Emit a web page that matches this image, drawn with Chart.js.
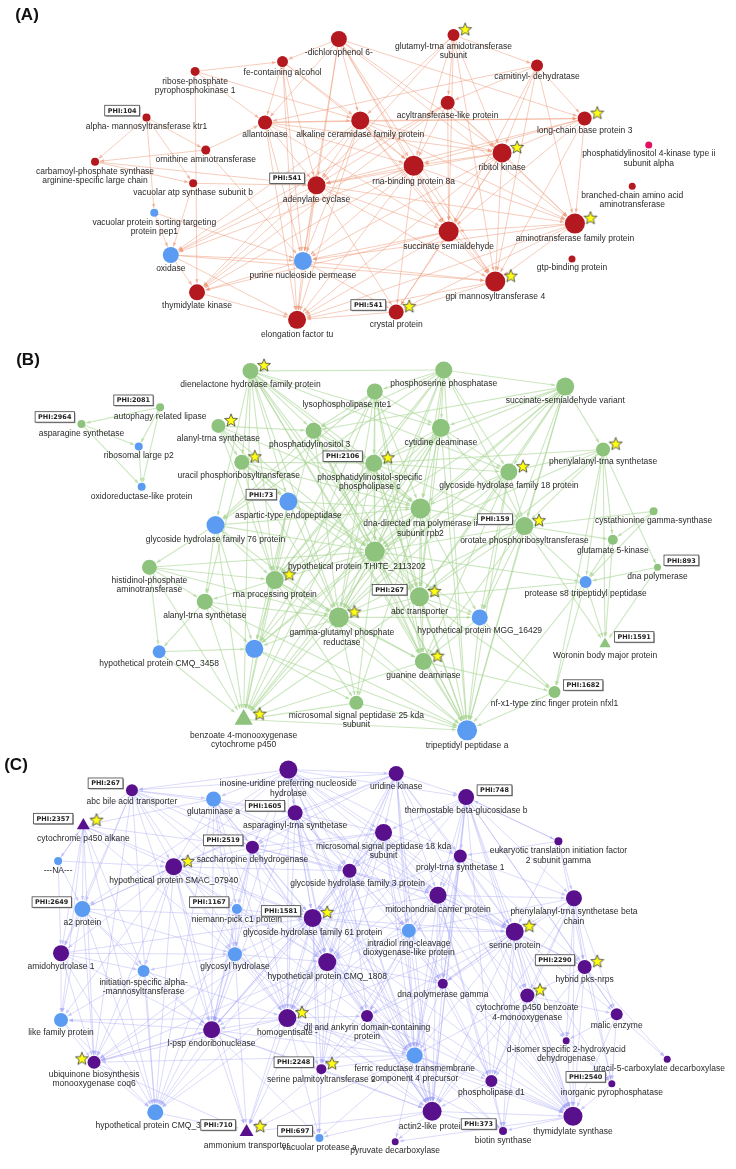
<!DOCTYPE html>
<html lang="en">
<head>
    <meta charset="UTF-8">
    <title>Protein interaction networks (A)(B)(C)</title>
    <script src="https://cdn.jsdelivr.net/npm/chart.js"></script>
    <style>
        html, body { margin: 0; padding: 0; background: #fff; }
        #wrap { width: 736px; height: 1169px; }
    </style>
</head>
<body>
    <div id="wrap"><canvas id="net" width="736" height="1169"></canvas></div>

    <script>
        // ---------- Panel A ----------
        const namesA = ['-dichlorophenol 6-', 'glutamyl-trna amidotransferase\nsubunit', 'carnitinyl- dehydratase', 'fe-containing alcohol',
            'ribose-phosphate\npyrophosphokinase 1', 'alpha- mannosyltransferase ktr1', 'allantoinase', 'alkaline ceramidase family protein',
            'acyltransferase-like protein', 'long-chain base protein 3', 'phosphatidylinositol 4-kinase type ii\nsubunit alpha',
            'ornithine aminotransferase', 'carbamoyl-phosphate synthase\narginine-specific large chain', 'ribitol kinase', 'rna-binding protein 8a',
            'vacuolar atp synthase subunit b', 'adenylate cyclase', 'branched-chain amino acid\naminotransferase',
            'vacuolar protein sorting targeting\nprotein pep1', 'aminotransferase family protein', 'succinate semialdehyde', 'oxidase',
            'purine nucleoside permease', 'gtp-binding protein', 'gpi mannosyltransferase 4', 'thymidylate kinase', 'crystal protein', 'elongation factor tu'];
        const xA = [338, 456, 542, 280, 190, 140, 262, 360, 450, 591, 657, 201, 87, 506, 415, 188, 315, 640, 148, 581, 451, 165, 301, 578, 499, 192, 397, 295];
        const yA = [29, 25, 56, 52, 62, 109, 114, 112, 94, 110, 137, 142, 154, 145, 158, 176, 178, 179, 206, 217, 225, 249, 255, 253, 276, 287, 307, 315];
        const degA = [11, 7, 7, 6, 4, 3, 9, 13, 9, 9, 2, 4, 3, 14, 15, 3, 13, 2, 3, 15, 15, 11, 13, 2, 15, 11, 10, 13];
        const blueA = [18, 21, 22];
        const pinkA = [10];
        const starA = [1, 9, 13, 19, 24, 26];
        const phiA = [[5, 'PHI:104'], [16, 'PHI:541'], [26, 'PHI:541']];
        const linksA = [
            [0, [3, 6, 7, 14, 16, 20, 13, 22, 19, 24, 9]], [1, [7, 8, 2, 14, 13, 20, 24, 16]], [2, [8, 9, 13, 19, 24, 6, 20]],
            [3, [6, 7, 16, 14, 22, 27]], [4, [3, 6, 7, 25]], [5, [12, 11, 15, 18]], [6, [7, 14, 16, 20, 13, 9, 27, 22]],
            [7, [14, 16, 20, 13, 9, 19, 24, 22, 27, 25, 21]], [8, [14, 13, 16, 19, 20, 25, 21]], [9, [13, 19, 20, 24, 14, 16]],
            [11, [6, 12, 22]], [12, [15, 16]], [13, [19, 20, 24, 14, 16, 22, 27, 26]], [14, [16, 20, 24, 19, 22, 27, 25, 21, 26]],
            [15, [16, 21]], [16, [22, 20, 24, 19, 27, 25, 21, 26]], [18, [21, 22]], [19, [20, 24, 26, 27, 22]],
            [20, [24, 22, 27, 26, 25]], [21, [22, 25, 27, 24]], [22, [27, 24, 26, 25]], [24, [26, 27]], [25, [27]], [26, [27]]
        ];

        // ---------- Panel B ----------
        const namesB = ['dienelactone hydrolase family protein', 'phosphoserine phosphatase', 'lysophospholipase nte1', 'succinate-semialdehyde variant',
            'autophagy related lipase', 'asparagine synthetase', 'alanyl-trna synthetase', 'phosphatidylinositol 3', 'cytidine deaminase',
            'ribosomal large p2', 'phenylalanyl-trna synthetase', 'uracil phosphoribosyltransferase', 'phosphatidylinositol-specific\nphospholipase c',
            'glycoside hydrolase family 18 protein', 'oxidoreductase-like protein', 'aspartic-type endopeptidase', 'dna-directed rna polymerase ii\nsubunit rpb2',
            'cystathionine gamma-synthase', 'glycoside hydrolase family 76 protein', 'orotate phosphoribosyltransferase', 'glutamate 5-kinase',
            'hypothetical protein THITE_2113202', 'dna polymerase', 'histidinol-phosphate\naminotransferase', 'rna processing protein',
            'protease s8 tripeptidyl peptidase', 'abc transporter', 'alanyl-trna synthetase', 'gamma-glutamyl phosphate\nreductase',
            'hypothetical protein MGG_16429', 'Woronin body major protein', 'hypothetical protein CMQ_3458', '', 'guanine deaminase',
            'nf-x1-type zinc finger protein nfxl1', 'microsomal signal peptidase 25 kda\nsubunit', 'benzoate 4-monooxygenase\ncytochrome p450',
            'tripeptidyl peptidase a'];
        const xB = [247, 446, 375, 571, 154, 73, 214, 312, 443, 132, 610, 238, 374, 513, 135, 286, 422, 662, 211, 529, 620, 375, 666, 143, 272, 592, 421, 200, 338, 483, 612, 153, 251, 425, 560, 356, 240, 470];
        const yB = [367, 366, 388, 383, 404, 421, 423, 428, 425, 444, 447, 460, 461, 470, 485, 500, 507, 510, 524, 525, 539, 551, 567, 567, 580, 582, 597, 602, 618, 618, 645, 653, 650, 663, 694, 705, 722, 733];
        const degB = [11, 12, 11, 13, 3, 3, 9, 11, 13, 3, 9, 10, 12, 12, 3, 13, 15, 3, 13, 13, 5, 15, 2, 10, 13, 7, 14, 11, 15, 11, 8, 8, 13, 12, 7, 9, 16, 15];
        const blueB = [9, 14, 15, 18, 25, 29, 31, 32, 37];
        const triB = [30, 36];
        const starB = [0, 6, 10, 11, 12, 13, 19, 24, 26, 28, 33, 36];
        const phiB = [[4, 'PHI:2081'], [5, 'PHI:2964'], [15, 'PHI:73'], [12, 'PHI:2106'], [19, 'PHI:159'], [26, 'PHI:267'],
            [22, 'PHI:893', 'r'], [30, 'PHI:1591', 'r'], [34, 'PHI:1682', 'r']];
        const linksB = [
            [0, [7, 11, 12, 16, 21, 26, 28, 8, 15, 18, 24, 33, 36, 37, 13]], [1, [0, 2, 3, 7, 8, 12, 16, 21, 26, 19, 13, 24, 28, 18, 37]],
            [2, [7, 12, 16, 21, 28, 8, 26, 33, 36, 18, 24]], [3, [10, 13, 16, 19, 8, 12, 21, 26, 29, 28, 37, 24, 7]],
            [4, [5, 9, 14]], [5, [9, 14]], [9, [14]], [6, [11, 7, 16, 21, 15, 24]], [7, [12, 16, 21, 24, 28, 18, 26, 33, 37]],
            [8, [12, 16, 21, 26, 28, 13, 19, 24, 36, 37, 32]], [10, [13, 19, 20, 25, 26, 30, 34, 21, 22, 12]],
            [11, [15, 16, 21, 24, 27, 28, 12]], [12, [16, 21, 26, 28, 24, 33, 37, 36, 13, 19, 32]], [13, [16, 19, 21, 26, 28, 29, 37, 33]],
            [15, [16, 21, 24, 28, 26, 36, 32]], [16, [21, 26, 28, 19, 24, 33, 37, 29, 36, 35, 32]], [17, [20, 25, 19]],
            [18, [23, 24, 27, 21, 28, 36, 32, 16]], [19, [20, 25, 21, 26, 28, 29, 33, 37, 30]], [20, [25, 30]],
            [21, [26, 28, 24, 33, 37, 36, 29, 35, 32, 25]], [22, [25, 30]], [23, [24, 27, 31, 36, 28, 21]], [24, [27, 28, 32, 33, 36, 37, 35]],
            [25, [30, 34, 26, 37]], [26, [28, 33, 37, 29, 36, 34]], [27, [28, 31, 32, 36, 37]], [28, [33, 36, 37, 35, 32, 29]],
            [29, [34, 37, 33]], [31, [36, 32]], [32, [36, 37, 35]], [33, [37, 34, 36]], [34, [37]], [35, [36, 37]], [36, [37]]
        ];

        // ---------- Panel C ----------
        const namesC = ['inosine-uridine preferring nucleoside\nhydrolase', 'uridine kinase', 'abc bile acid transporter', 'thermostable beta-glucosidase b',
            'glutaminase a', 'asparaginyl-trna synthetase', 'cytochrome p450 alkane', 'microsomal signal peptidase 18 kda\nsubunit',
            'eukaryotic translation initiation factor\n2 subunit gamma', 'saccharopine dehydrogenase', 'prolyl-trna synthetase 1', '---NA---',
            'hypothetical protein SMAC_07940', 'glycoside hydrolase family 3 protein', 'mitochondrial carrier protein',
            'phenylalanyl-trna synthetase beta\nchain', 'a2 protein', 'niemann-pick c1 protein', 'glycoside hydrolase family 61 protein',
            'intradiol ring-cleavage\ndioxygenase-like protein', 'serine protein', 'amidohydrolase 1', 'glycosyl hydrolase',
            'hypothetical protein CMQ_1808', 'hybrid pks-nrps', 'initiation-specific alpha-\n-mannosyltransferase', 'dna polymerase gamma',
            'cytochrome p450 benzoate\n4-monooxygenase', 'homogentisate -', 'dil and ankyrin domain-containing\nprotein', 'malic enzyme',
            'like family protein', 'l-psp endoribonuclease', 'd-isomer specific 2-hydroxyacid\ndehydrogenase',
            'ferric reductase transmembrane\ncomponent 4 precursor', 'uracil-5-carboxylate decarboxylase', 'ubiquinone biosynthesis\nmonooxygenase coq6',
            'serine palmitoyltransferase 2', 'phospholipase d1', 'inorganic pyrophosphatase', 'actin2-like protein', 'hypothetical protein CMQ_3905',
            'thymidylate synthase', 'ammonium transporter', 'biotin synthase', 'vacuolar protease a', 'pyruvate decarboxylase'];
        const xC = [286, 397, 125, 469, 209, 293, 75, 384, 564, 249, 463, 49, 168, 349, 440, 580, 74, 233, 311, 410, 519, 52, 231, 326, 591, 137, 445, 532, 285, 367, 624, 52, 207, 572, 416, 676, 86, 320, 495, 619, 434, 149, 579, 243, 507, 318, 396];
        const yC = [773, 777, 794, 801, 803, 817, 830, 837, 846, 852, 861, 866, 872, 876, 901, 904, 915, 915, 924, 937, 938, 960, 961, 969, 974, 978, 991, 1003, 1026, 1024, 1022, 1028, 1038, 1049, 1064, 1068, 1071, 1078, 1090, 1093, 1121, 1122, 1126, 1142, 1141, 1148, 1152];
        const degC = [13, 10, 7, 11, 10, 10, 10, 12, 3, 8, 8, 3, 12, 9, 12, 11, 11, 5, 13, 9, 13, 11, 9, 13, 9, 7, 5, 9, 13, 7, 7, 9, 12, 2, 11, 2, 8, 5, 7, 2, 14, 11, 14, 11, 3, 3, 2];
        const blueC = [4, 11, 16, 17, 19, 22, 25, 31, 34, 41, 45];
        const triC = [6, 43];
        const starC = [6, 12, 18, 20, 24, 27, 28, 37, 43];
        const starLeftC = [36];
        const phiC = [[2, 'PHI:267'], [6, 'PHI:2357'], [5, 'PHI:1605'], [9, 'PHI:2519'], [16, 'PHI:2649'], [17, 'PHI:1167'], [18, 'PHI:1581'],
            [3, 'PHI:748', 'r'], [24, 'PHI:2290'], [37, 'PHI:2248'], [43, 'PHI:710'], [45, 'PHI:697'], [39, 'PHI:2540'], [44, 'PHI:373']];
        const linksC = [
            [0, [1, 2, 3, 5, 7, 9, 12, 13, 14, 18, 20, 23, 28, 32, 40, 4, 10, 19, 34, 42, 16]],
            [1, [3, 5, 7, 10, 13, 14, 20, 18, 23, 28, 34, 40, 9, 12, 19, 42, 2]],
            [2, [4, 6, 9, 12, 16, 18, 23, 32, 36, 41, 5, 13, 21, 28]],
            [3, [7, 8, 10, 14, 15, 20, 24, 27, 18, 23, 40, 42, 13, 34, 30, 26, 38]],
            [4, [5, 9, 12, 13, 18, 22, 23, 28, 32, 6, 14, 17, 41]],
            [5, [7, 9, 13, 14, 18, 20, 23, 28, 12, 32, 34, 40, 19]],
            [6, [11, 12, 16, 21, 31, 36, 41, 9, 18, 25, 22]],
            [7, [9, 10, 13, 14, 18, 20, 23, 28, 34, 40, 42, 12, 19, 26, 32, 37]],
            [8, [15, 24, 3, 20, 10]], [9, [12, 13, 18, 23, 28, 32, 14, 17, 22, 41, 40]],
            [10, [14, 15, 20, 24, 27, 18, 23, 34, 42, 40, 26]], [11, [6, 16, 21, 12]],
            [12, [16, 18, 21, 22, 23, 25, 28, 31, 32, 36, 41, 13, 17, 43, 34]],
            [13, [14, 18, 20, 23, 28, 34, 40, 19, 32, 29, 37, 26]],
            [14, [15, 18, 20, 23, 24, 27, 28, 34, 40, 42, 19, 26, 29, 38, 44, 37]],
            [15, [20, 24, 27, 30, 33, 42, 38, 39, 19, 40, 26]], [16, [21, 25, 31, 36, 41, 12, 22, 32, 18]],
            [17, [18, 22, 23, 28, 32]], [18, [20, 22, 23, 28, 32, 34, 40, 41, 43, 36, 37, 29, 19, 26, 42, 45]],
            [19, [20, 23, 28, 34, 40, 26, 29, 38, 42]], [20, [24, 27, 28, 34, 40, 42, 30, 33, 26, 38, 44, 39, 29, 37]],
            [21, [25, 31, 36, 41, 32, 22, 18]], [22, [23, 28, 32, 41, 36, 43, 25, 34, 40]],
            [23, [28, 29, 32, 34, 37, 40, 42, 43, 41, 36, 26, 38, 44]], [24, [27, 30, 33, 35, 39, 42, 38]],
            [25, [31, 36, 41, 32, 28]], [26, [34, 40, 42, 38, 29]], [27, [30, 42, 33, 38, 40, 34, 39, 44]],
            [28, [32, 34, 37, 40, 41, 43, 36, 42, 45, 29, 44, 31]], [29, [34, 40, 37, 42]], [30, [33, 39, 42, 35]],
            [31, [36, 41]], [32, [36, 41, 43, 34, 40, 37, 45, 31]], [33, [39, 42]], [34, [37, 40, 42, 43, 44, 45, 38, 46, 36]],
            [36, [41, 43, 32]], [37, [40, 43, 45]], [38, [42, 44, 40]], [39, [42]], [40, [42, 44, 45, 46, 43]], [41, [43]], [42, [44, 46]]
        ];

        // ---------- styling / layout ----------
        const BLUE = '#5b9cf2';
        const PINK = '#e2115f';
        const panels = [
            { title: '(A)', tx: 27, ty: 15, names: namesA, xs: xA, ys: yA, deg: degA, blue: blueA, pink: pinkA, tri: [],
              stars: starA, starsLeft: [], phi: phiA, links: linksA, node: '#b3191e', edge: 'rgba(236,150,115,0.6)', edgeW: 0.8, shift: {} },
            { title: '(B)', tx: 28, ty: 360, names: namesB, xs: xB, ys: yB, deg: degB, blue: blueB, pink: [], tri: triB,
              stars: starB, starsLeft: [], phi: phiB, links: linksB, node: '#8dc37c', edge: 'rgba(170,214,150,0.6)', edgeW: 1.1,
              shift: { 2: -28, 7: -4, 11: -3, 12: -4, 21: -18, 28: 3 } },
            { title: '(C)', tx: 16, ty: 765, names: namesC, xs: xC, ys: yC, deg: degC, blue: blueC, pink: [], tri: triC,
              stars: starC, starsLeft: starLeftC, phi: phiC, links: linksC, node: '#58108c', edge: 'rgba(160,160,245,0.48)', edgeW: 0.8,
              shift: { 13: 8, 35: -8 } }
        ];

        const radius = d => 2.5 + d / 2;
        const LABEL_FONT = '8.5px "Liberation Sans", Arial, sans-serif';

        function makeStar() {
            const c = document.createElement('canvas');
            c.width = 16; c.height = 16;
            const g = c.getContext('2d');
            g.beginPath();
            for (let k = 0; k < 10; k++) {
                const a = -Math.PI / 2 + k * Math.PI / 5;
                const rr = k % 2 ? 2.9 : 6.8;
                g.lineTo(8 + rr * Math.cos(a), 8.6 + rr * Math.sin(a));
            }
            g.closePath();
            g.fillStyle = '#ffff14';
            g.fill();
            g.lineWidth = 0.8;
            g.strokeStyle = '#3a3a3a';
            g.stroke();
            return c;
        }

        // ---------- datasets ----------
        const datasets = [];
        panels.forEach(p => {
            datasets.push({
                data: p.xs.map((x, i) => ({ x: x, y: p.ys[i] })),
                pointRadius: p.deg.map(radius),
                pointStyle: p.xs.map((_, i) => p.tri.includes(i) ? 'triangle' : 'circle'),
                backgroundColor: p.xs.map((_, i) => p.blue.includes(i) ? BLUE : p.pink.includes(i) ? PINK : p.node),
                borderWidth: 0
            });
        });
        const starPts = [];
        panels.forEach(p => {
            p.stars.forEach(i => starPts.push({ x: p.xs[i] + radius(p.deg[i]) + 6, y: p.ys[i] - 6 }));
            p.starsLeft.forEach(i => starPts.push({ x: p.xs[i] - radius(p.deg[i]) - 6, y: p.ys[i] - 4 }));
        });
        datasets.push({ data: starPts, pointStyle: makeStar(), pointRadius: 7, borderWidth: 0 });

        // ---------- plugins ----------
        const edgePlugin = {
            id: 'edges',
            beforeDatasetsDraw(chart) {
                const ctx = chart.ctx, sx = chart.scales.x, sy = chart.scales.y;
                ctx.save();
                panels.forEach(p => {
                    ctx.strokeStyle = p.edge;
                    ctx.fillStyle = p.edge;
                    ctx.lineWidth = p.edgeW;
                    p.links.forEach(([s, targets]) => {
                        targets.forEach(t => {
                            const x1 = sx.getPixelForValue(p.xs[s]), y1 = sy.getPixelForValue(p.ys[s]);
                            const x2 = sx.getPixelForValue(p.xs[t]), y2 = sy.getPixelForValue(p.ys[t]);
                            const len = Math.hypot(x2 - x1, y2 - y1);
                            const ux = (x2 - x1) / len, uy = (y2 - y1) / len;
                            const rt = radius(p.deg[t]) + 1;
                            const ex = x2 - ux * rt, ey = y2 - uy * rt;
                            ctx.beginPath();
                            ctx.moveTo(x1, y1);
                            ctx.lineTo(ex, ey);
                            ctx.stroke();
                            // small arrow head
                            ctx.beginPath();
                            ctx.moveTo(ex, ey);
                            ctx.lineTo(ex - ux * 4 - uy * 1.8, ey - uy * 4 + ux * 1.8);
                            ctx.lineTo(ex - ux * 4 + uy * 1.8, ey - uy * 4 - ux * 1.8);
                            ctx.closePath();
                            ctx.fill();
                        });
                    });
                });
                ctx.restore();
            }
        };

        const labelPlugin = {
            id: 'labels',
            afterDatasetsDraw(chart) {
                const ctx = chart.ctx, sx = chart.scales.x, sy = chart.scales.y;
                ctx.save();
                ctx.textAlign = 'center';
                ctx.textBaseline = 'middle';
                panels.forEach(p => {
                    // node labels
                    ctx.font = LABEL_FONT;
                    ctx.fillStyle = '#2a2a2a';
                    p.names.forEach((name, i) => {
                        if (!name) return;
                        const px = sx.getPixelForValue(p.xs[i]) + (p.shift[i] || 0);
                        const py = sy.getPixelForValue(p.ys[i]) + radius(p.deg[i]) + 5.5;
                        name.split('\n').forEach((line, k) => ctx.fillText(line, px, py + k * 9.5));
                    });
                    // PHI boxes
                    ctx.font = 'bold 6.5px "DejaVu Sans", Verdana, sans-serif';
                    p.phi.forEach(([i, txt, side]) => {
                        const r = radius(p.deg[i]);
                        const px = sx.getPixelForValue(p.xs[i]), py = sy.getPixelForValue(p.ys[i]);
                        const w = ctx.measureText(txt).width + 6, h = 10.5;
                        const left = side === 'r' ? px + r + 3 : px - r - 3 - w;
                        const top = py - 7 - h / 2;
                        ctx.fillStyle = '#9a9a9a';
                        ctx.fillRect(left + 1, top + 1, w, h);
                        ctx.fillStyle = '#fff';
                        ctx.fillRect(left, top, w, h);
                        ctx.strokeStyle = '#444';
                        ctx.lineWidth = 0.8;
                        ctx.strokeRect(left, top, w, h);
                        ctx.fillStyle = '#222';
                        ctx.fillText(txt, left + w / 2, top + h / 2 + 0.5);
                    });
                    // panel title
                    ctx.font = 'bold 17px "Liberation Sans", Arial, sans-serif';
                    ctx.fillStyle = '#111';
                    ctx.fillText(p.title, p.tx, p.ty);
                });
                ctx.restore();
            }
        };

        new Chart(document.getElementById('net'), {
            type: 'scatter',
            data: { datasets: datasets },
            options: {
                responsive: false,
                devicePixelRatio: 1,
                animation: false,
                events: [],
                layout: { padding: 0 },
                plugins: { legend: { display: false }, tooltip: { enabled: false } },
                scales: {
                    x: { type: 'linear', min: 0, max: 736, display: false },
                    y: { type: 'linear', min: 0, max: 1169, reverse: true, display: false }
                }
            },
            plugins: [edgePlugin, labelPlugin]
        });
    </script>
</body>
</html>
